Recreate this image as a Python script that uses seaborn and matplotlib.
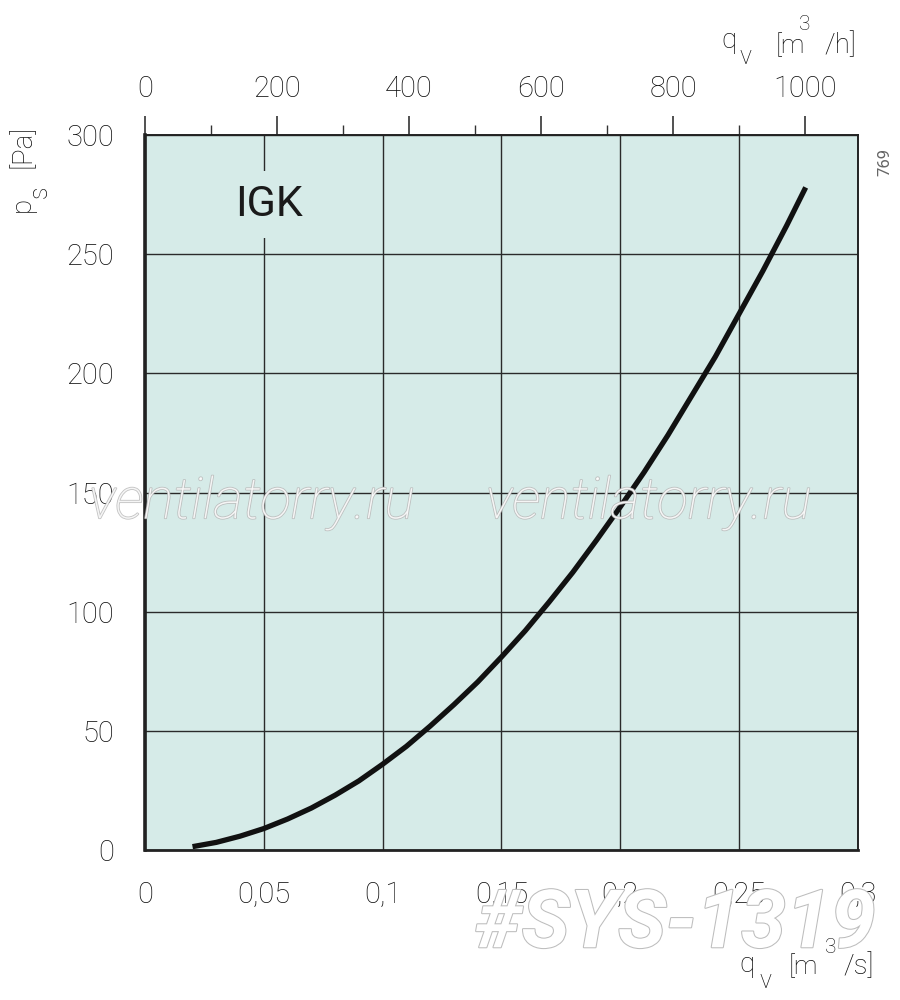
import pandas as pd
import seaborn as sns
import matplotlib.pyplot as plt
import matplotlib.patheffects as pe
from matplotlib.ticker import MultipleLocator, FixedLocator

# fan curve: airflow qv [m3/s] vs static pressure ps [Pa]
qv = [0.02, 0.03, 0.04, 0.05, 0.06, 0.07, 0.08, 0.09, 0.10, 0.11, 0.12, 0.13, 0.14,
      0.15, 0.16, 0.17, 0.18, 0.19, 0.20, 0.21, 0.22, 0.23, 0.24, 0.25, 0.26, 0.27, 0.278]
ps = [1.4, 3.2, 5.8, 9, 13, 17.6, 23, 29, 36, 43.5, 52, 61, 70.5,
      81, 92, 104, 116.5, 130, 144, 158.5, 174, 190.5, 207, 225, 243, 262, 278]

x_ticks = [0, 0.05, 0.1, 0.15, 0.2, 0.25, 0.3]
x_labels = ["0", "0,05", "0,1", "0,15", "0,2", "0,25", "0,3"]
y_ticks = [0, 50, 100, 150, 200, 250, 300]
top_ticks = [0, 200, 400, 600, 800, 1000]
top_labels = ["0", "200", "400", "600", "800", "1000"]

bg = "#d6ebe8"
ink = "#0e0e0e"

sns.set_style("white")
plt.rcParams['font.family'] = ['Roboto', 'DejaVu Sans']

fig = plt.figure(figsize=(9, 10), dpi=100)
ax = fig.add_axes([0.1611, 0.15, 0.7922, 0.715])
ax.set_facecolor(bg)

df = pd.DataFrame({"qv": qv, "ps": ps})
sns.lineplot(data=df, x="qv", y="ps", ax=ax, color="#111111", linewidth=3.8,
             solid_capstyle="butt", solid_joinstyle="round", zorder=5)

ax.set_xlim(0, 0.3)
ax.set_ylim(0, 300)
ax.set_xticks(x_ticks)
ax.set_xticklabels(x_labels)
ax.set_yticks(y_ticks)
ax.xaxis.set_minor_locator(MultipleLocator(0.025))
ax.yaxis.set_minor_locator(MultipleLocator(25))
ax.set_xlabel("")
ax.set_ylabel("")
ax.grid(True, which="major", color="#2a2a2a", linewidth=1.0)
ax.set_axisbelow(True)

ax.tick_params(which="major", direction="out", length=14, width=1.2, color="#333333",
               labelcolor=ink, labelsize=21, pad=8)
ax.tick_params(which="minor", direction="out", length=7, width=1.0, color="#333333")
for lab in ax.get_xticklabels() + ax.get_yticklabels():
    lab.set_fontweight("light")

for side, lw in [("left", 2.6), ("bottom", 2.0), ("top", 1.4), ("right", 1.4)]:
    ax.spines[side].set_visible(True)
    ax.spines[side].set_color("#222222")
    ax.spines[side].set_linewidth(lw)

# top axis in m3/h
sec = ax.secondary_xaxis("top", functions=(lambda q: q * 3600, lambda h: h / 3600))
sec.set_xticks(top_ticks)
sec.set_xticklabels(top_labels)
sec.xaxis.set_minor_locator(FixedLocator([100, 300, 500, 700, 900]))
sec.tick_params(which="major", direction="out", length=14, width=1.2, color="#333333",
                labelcolor=ink, labelsize=21, pad=9)
sec.tick_params(which="minor", direction="out", length=7, width=1.0, color="#333333")
sec.spines["top"].set_visible(False)
for lab in sec.get_xticklabels():
    lab.set_fontweight("light")

ax.text(0.052, 271, "IGK", ha="center", va="center", fontsize=31, color="#1a1a1a",
        bbox=dict(boxstyle="square,pad=0.3", facecolor=bg, edgecolor="none"), zorder=4)


def put(px, py, s, size=20, **kw):
    # place a piece of label text at picture pixels (from top-left)
    kw.setdefault("ha", "left")
    fig.text(px / 900, 1 - py / 1000, s, fontsize=size, color=ink, va="baseline",
             rotation_mode="anchor", fontweight="light", **kw)


# y axis title  p_s [Pa]
put(30, 212, "p", rotation=90)
put(47, 198, "s", 18, rotation=90)
put(31, 168, "[Pa]", rotation=90)

# top axis title  q_v [m3/h]
put(721, 48, "q")
put(739, 64, "v", 18)
put(776, 53, "[m", 19)
put(799, 30, "3", 15)
put(856, 53, "/h]", 20, ha="right")

# bottom axis title  q_v [m3/s]
put(739, 972, "q")
put(759, 988, "v", 18)
put(789, 974, "[m", 19)
put(825, 953, "3", 15)
put(874, 974, "/s]", ha="right")

fig.text(0.983, 0.838, "769", rotation=90, ha="center", va="center",
         fontsize=12, color="#666666")

# watermarks
outline = [pe.withStroke(linewidth=1.2, foreground="#b8b8b8")]
for xw in [0.28, 0.721]:
    fig.text(xw, 0.497, "ventilatorry.ru", ha="center", va="center", fontsize=41,
             style="italic", fontweight="light", color="white", alpha=0.85,
             path_effects=outline, zorder=10)
fig.text(0.75, 0.075, "#SYS-1319", ha="center", va="center", fontsize=58,
         style="italic", fontweight="bold", color="white",
         path_effects=[pe.withStroke(linewidth=1.5, foreground="#bdbdbd")], zorder=10)

fig.savefig("out.png", dpi=100, facecolor="white")
